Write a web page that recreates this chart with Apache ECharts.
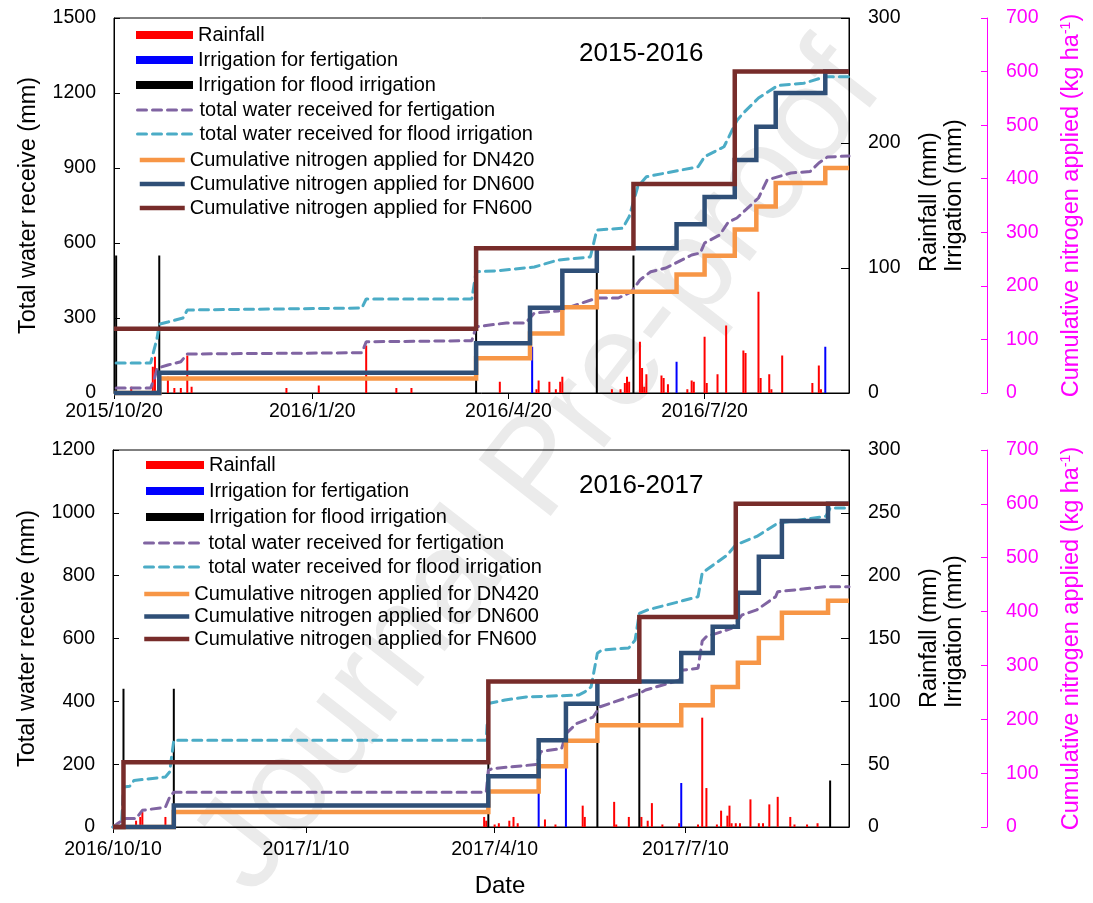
<!DOCTYPE html>
<html>
<head>
<meta charset="utf-8">
<script src="https://cdn.jsdelivr.net/npm/echarts@6/dist/echarts.min.js"></script>
<style>
html,body{margin:0;padding:0;background:#fff;}
#chart{width:1093px;height:903px;}
</style>
</head>
<body>
<div id="chart"></div>
<script>
// ---------------- DATA: 2015-2016 ----------------
const xTicks15 = ['2015-10-20', '2016-01-20', '2016-04-20', '2016-07-20'];
const xRange15 = ['2015-10-20', '2016-09-25'];

const rain15Dates = ['2015-10-28','2015-11-07','2015-11-08','2015-11-14','2015-11-17','2015-11-20','2015-11-23','2015-11-25',
  '2016-01-08','2016-01-23','2016-02-14','2016-02-28','2016-03-06','2016-04-16','2016-05-03','2016-05-04','2016-05-09',
  '2016-05-12','2016-05-14','2016-05-15','2016-06-07','2016-06-11','2016-06-13','2016-06-14','2016-06-15','2016-06-20',
  '2016-06-21','2016-06-22','2016-06-23','2016-06-30','2016-07-01','2016-07-03','2016-07-12','2016-07-14','2016-07-15',
  '2016-07-20','2016-07-21','2016-07-26','2016-07-30','2016-08-07','2016-08-08','2016-08-14','2016-08-15','2016-08-19',
  '2016-08-20','2016-08-25','2016-09-08','2016-09-11','2016-09-12'];
const rain15 = [5,21,29,13,4,4,30,5,
  4,6,38,4,4,9,3,10,9,
  3,9,13,3,3,8,13,9,41,
  20,5,15,14,12,7,3,10,9,
  45,8,15,54,34,32,81,12,15,
  3,30,8,22,3];

const fert15Dates = ['2016-05-01','2016-07-07','2016-09-14'];
const fert15 = [37,25,37];

const flood15Dates = ['2015-10-21','2015-11-10','2016-04-05','2016-05-31','2016-06-17'];
const flood15 = [110,110,110,110,110];

const totFert15Dates = ['2015-10-21','2015-11-06','2015-11-08','2015-11-09','2015-11-14','2015-11-20','2015-11-23','2016-02-12',
  '2016-02-14','2016-04-03','2016-04-05','2016-04-19','2016-04-28','2016-05-02','2016-05-13','2016-05-31','2016-06-10',
  '2016-06-16','2016-06-20','2016-06-25','2016-07-02','2016-07-14','2016-07-18','2016-07-20','2016-07-27','2016-07-31',
  '2016-08-04','2016-08-14','2016-08-18','2016-08-29','2016-09-07','2016-09-11','2016-09-15','2016-09-25'];
const totFert15 = [20,20,65,99,112,125,156,161,
  205,209,265,280,280,320,328,380,380,
  404,452,485,500,552,560,600,632,684,
  700,780,852,880,886,920,944,948];

const totFlood15Dates = ['2015-10-21','2015-11-06','2015-11-09','2015-11-10','2015-11-14','2015-11-21','2015-11-23','2016-02-12',
  '2016-02-14','2016-04-03','2016-04-05','2016-04-15','2016-05-02','2016-05-13','2016-05-28','2016-05-31','2016-06-12',
  '2016-06-15','2016-06-19','2016-06-23','2016-07-17','2016-07-20','2016-07-29','2016-08-04','2016-08-07','2016-08-14',
  '2016-08-23','2016-09-04','2016-09-14','2016-09-25'];
const totFlood15 = [120,120,220,275,284,300,332,340,
  376,376,485,489,504,532,544,652,659,
  705,825,865,905,945,985,1090,1120,1180,
  1230,1239,1265,1265];

const nDn15Dates = ['2015-10-20','2015-11-10','2016-04-05','2016-04-30','2016-05-15','2016-05-31','2016-07-07',
  '2016-07-20','2016-08-03','2016-08-13','2016-08-22','2016-09-14','2016-09-25'];
const dn420_15 = [0,27,65,111,160,189,221,256,305,348,392,420,420];
const dn600_15 = [0,38,93,159,228,270,315,366,435,497,560,600,600];
const nFn15Dates = ['2015-10-20','2016-04-05','2016-06-17','2016-08-03','2016-09-25'];
const fn600_15 = [120,270,390,600,600];

// ---------------- DATA: 2016-2017 ----------------
const xTicks16 = ['2016-10-10', '2017-01-10', '2017-04-10', '2017-07-10'];
const xRange16 = ['2016-10-10', '2017-09-26'];

const rain16Dates = ['2016-10-21','2016-10-23','2016-10-24','2016-11-04','2017-04-05','2017-04-06','2017-04-10','2017-04-12',
  '2017-04-17','2017-04-19','2017-04-21','2017-05-04','2017-05-09','2017-05-22','2017-05-23','2017-06-06','2017-06-07',
  '2017-06-13','2017-06-19','2017-06-22','2017-06-24','2017-06-29','2017-07-07','2017-07-16','2017-07-18','2017-07-20',
  '2017-07-25','2017-07-27','2017-07-30','2017-07-31','2017-08-01','2017-08-03','2017-08-05','2017-08-10','2017-08-14',
  '2017-08-16','2017-08-19','2017-08-23','2017-08-29','2017-08-31','2017-09-06','2017-09-11'];
const rain16 = [5,8,12,8,8,5,2,3,
  5,8,3,6,2,17,8,20,2,
  8,8,5,19,2,3,2,87,31,
  2,13,9,17,3,3,3,22,3,
  3,18,24,8,2,2,3];

const fert16Dates = ['2017-05-01','2017-05-14','2017-07-08'];
const fert16 = [27,48,35];

const flood16Dates = ['2016-10-15','2016-11-08','2017-04-07','2017-05-29','2017-06-18','2017-09-17'];
const flood16 = [110,110,110,110,110,37];

const totFert16Dates = ['2016-10-10','2016-10-12','2016-10-16','2016-10-21','2016-10-24','2016-11-04','2016-11-06','2016-11-08',
  '2017-04-06','2017-04-07','2017-04-09','2017-04-30','2017-05-02','2017-05-12','2017-05-14','2017-05-19','2017-05-27',
  '2017-05-30','2017-06-18','2017-06-21','2017-07-07','2017-07-08','2017-07-16','2017-07-18','2017-07-20','2017-08-01',
  '2017-08-06','2017-08-13','2017-08-22','2017-08-23','2017-09-15','2017-09-26'];
const totFert16 = [0,10,27,27,53,63,95,111,
  111,180,186,199,240,250,297,329,350,
  382,425,436,467,499,505,592,606,632,
  675,691,733,749,765,765];

const totFlood16Dates = ['2016-10-10','2016-10-14','2016-10-15','2016-10-18','2016-10-20','2016-11-04','2016-11-06','2016-11-08',
  '2017-04-06','2017-04-07','2017-04-15','2017-04-25','2017-05-20','2017-05-23','2017-05-26','2017-05-29','2017-05-31',
  '2017-06-13','2017-06-16','2017-06-18','2017-06-22','2017-07-16','2017-07-18','2017-07-30','2017-08-03','2017-08-13',
  '2017-08-23','2017-09-15','2017-09-17','2017-09-26'];
const totFlood16 = [0,3,127,130,148,159,175,276,
  276,393,404,414,420,430,446,553,563,
  570,595,680,691,733,809,866,898,925,
  967,989,1015,1015];

const nDn16Dates = ['2016-10-10','2016-11-08','2017-04-07','2017-05-01','2017-05-14','2017-05-29','2017-07-08',
  '2017-07-23','2017-08-04','2017-08-14','2017-08-25','2017-09-16','2017-09-26'];
const dn420_16 = [0,28,66,113,160,189,226,260,305,351,398,420,420];
const dn600_16 = [0,40,94,161,229,270,323,372,435,502,568,600,600];
const nFn16Dates = ['2016-10-10','2016-10-15','2017-04-07','2017-06-18','2017-08-03','2017-09-26'];
const fn600_16 = [0,120,270,390,600,600];

const seasonTitles = ['2015-2016', '2016-2017'];

// ---------------- HELPERS ----------------
const FONT = '"Liberation Sans", Arial, Helvetica, sans-serif';
function ts(s) { const p = s.split('-').map(Number); return new Date(p[0], p[1] - 1, p[2]).getTime(); }
function pairs(dates, vals) { return dates.map((d, i) => [ts(d), vals[i]]); }
function fmtDate(v) { const d = new Date(v); return d.getFullYear() + '/' + (d.getMonth() + 1) + '/' + d.getDate(); }
function fmtNum(v) { return String(v); }

const C = {
  rain: '#FF0000', fert: '#0000FF', flood: '#000000',
  totFert: '#8064A2', totFlood: '#4BACC6',
  dn420: '#F79646', dn600: '#2F4F77', fn600: '#772C2A', pink: '#FF00FF'
};
const N = {
  rain: 'Rainfall', fert: 'Irrigation for fertigation', flood: 'Irrigation for flood irrigation',
  totFert: 'total water received for fertigation', totFlood: 'total water received for flood irrigation',
  dn420: 'Cumulative nitrogen applied for DN420', dn600: 'Cumulative nitrogen applied for DN600', fn600: 'Cumulative nitrogen applied for FN600'
};

const grids = [
  { left: 114, top: 18, width: 737, height: 375 },
  { left: 113, top: 450, width: 737, height: 377 }
];

function xAx(g, range, ticks, margin, withName) {
  const o = {
    type: 'value', gridIndex: g, min: ts(range[0]), max: ts(range[1]), scale: true,
    axisLine: { show: true, onZero: false, lineStyle: { color: '#000', width: 1 } },
    axisTick: { show: true, inside: false, length: 6, lineStyle: { color: '#000' }, customValues: ticks.map(ts) },
    axisLabel: { show: true, customValues: ticks.map(ts), formatter: fmtDate, fontSize: 19.5, color: '#000', margin: margin, hideOverlap: false, showMinLabel: true, showMaxLabel: true, fontFamily: FONT },
    splitLine: { show: false }, minorTick: { show: false }
  };
  if (withName) {
    o.name = 'Date'; o.nameLocation = 'middle'; o.nameGap = 46;
    o.nameTextStyle = { fontSize: 24, color: '#000', lineHeight: 26, padding: [0, 0, 0, 38], fontFamily: FONT };
  }
  return o;
}

function yLeft(g, max, interval) {
  return {
    type: 'value', gridIndex: g, position: 'left', min: 0, max: max, interval: interval,
    axisLine: { show: true, onZero: false, lineStyle: { color: '#000', width: 1 } },
    axisTick: { show: true, inside: true, length: 6, lineStyle: { color: '#000' } },
    axisLabel: { margin: 18, fontSize: 19.5, color: '#000', fontFamily: FONT, formatter: fmtNum },
    splitLine: { show: false },
    name: 'Total water receive (mm)', nameLocation: 'middle', nameGap: 60,
    nameTextStyle: { fontSize: 23.5, color: '#000', lineHeight: 26, fontFamily: FONT }
  };
}
function yRain(g, interval) {
  return {
    type: 'value', gridIndex: g, position: 'right', min: 0, max: 300, interval: interval,
    axisLine: { show: true, onZero: false, lineStyle: { color: '#000', width: 1 } },
    axisTick: { show: true, inside: true, length: 8, lineStyle: { color: '#000' } },
    axisLabel: { margin: 19, fontSize: 19.5, color: '#000', fontFamily: FONT, formatter: fmtNum },
    splitLine: { show: false }
  };
}
function yN(g) {
  return {
    type: 'value', gridIndex: g, position: 'right', offset: 138, min: 0, max: 700, interval: 100,
    axisLine: { show: true, onZero: false, lineStyle: { color: C.pink, width: 1 } },
    axisTick: { show: true, inside: true, length: 6, lineStyle: { color: C.pink } },
    axisLabel: { margin: 19, fontSize: 19.5, color: C.pink, fontFamily: FONT, formatter: fmtNum },
    splitLine: { show: false },
    name: '{a|Cumulative nitrogen applied (kg ha}{s|-1}{a|)}', nameLocation: 'middle', nameGap: 72,
    nameTextStyle: {
      color: C.pink, fontSize: 23.5, lineHeight: 26, fontFamily: FONT,
      rich: {
        a: { color: C.pink, fontSize: 23.5, lineHeight: 26, fontFamily: FONT },
        s: { color: C.pink, fontSize: 14, verticalAlign: 'top', fontFamily: FONT }
      }
    }
  };
}

function barS(name, color, g, dates, vals) {
  return { type: 'bar', name: name, color: color, xAxisIndex: g, yAxisIndex: 3 * g + 1,
    data: pairs(dates, vals), barWidth: 2, barGap: '-100%', silent: true, itemStyle: { color: color } };
}
function dashS(name, color, g, dates, vals) {
  return { type: 'line', name: name, color: color, xAxisIndex: g, yAxisIndex: 3 * g,
    data: pairs(dates, vals), symbol: 'none', showSymbol: false, clip: false, silent: true,
    lineStyle: { color: color, width: 3, type: [9, 6], cap: 'round' } };
}
function stepS(name, color, g, dates, vals) {
  return { type: 'line', name: name, color: color, xAxisIndex: g, yAxisIndex: 3 * g + 2, step: 'end',
    data: pairs(dates, vals), symbol: 'none', showSymbol: false, clip: false, silent: true,
    lineStyle: { color: color, width: 4.5, cap: 'butt', join: 'miter' } };
}

function legendBlock(names, left, top, w, lh, icon, lw) {
  const o = { orient: 'vertical', left: left, top: top, padding: 0, itemGap: 0, itemWidth: w, itemHeight: 8,
    data: names, selectedMode: false,
    textStyle: { fontSize: 20, color: '#000', lineHeight: lh, fontFamily: FONT } };
  if (icon) o.icon = icon;
  if (lw) { o.lineStyle = { width: lw }; o.itemStyle = { opacity: 0 }; }
  return o;
}

const series = [];
[
  [0, rain15Dates, rain15, fert15Dates, fert15, flood15Dates, flood15, totFert15Dates, totFert15, totFlood15Dates, totFlood15, nDn15Dates, dn420_15, dn600_15, nFn15Dates, fn600_15],
  [1, rain16Dates, rain16, fert16Dates, fert16, flood16Dates, flood16, totFert16Dates, totFert16, totFlood16Dates, totFlood16, nDn16Dates, dn420_16, dn600_16, nFn16Dates, fn600_16]
].forEach(function (p) {
  const g = p[0];
  series.push(barS(N.rain, C.rain, g, p[1], p[2]));
  series.push(barS(N.fert, C.fert, g, p[3], p[4]));
  series.push(barS(N.flood, C.flood, g, p[5], p[6]));
  series.push(dashS(N.totFert, C.totFert, g, p[7], p[8]));
  series.push(dashS(N.totFlood, C.totFlood, g, p[9], p[10]));
  series.push(stepS(N.dn420, C.dn420, g, p[11], p[12]));
  series.push(stepS(N.dn600, C.dn600, g, p[11], p[13]));
  series.push(stepS(N.fn600, C.fn600, g, p[14], p[15]));
});

const option = {
  animation: false,
  backgroundColor: '#ffffff',
  textStyle: { fontFamily: FONT },
  grid: grids.map(function (gr) { return Object.assign({ show: true, borderColor: '#000', borderWidth: 1, backgroundColor: 'transparent', containLabel: false }, gr); }),
  xAxis: [xAx(0, xRange15, xTicks15, 9, false), xAx(1, xRange16, xTicks16, 13, true)],
  yAxis: [yLeft(0, 1500, 300), yRain(0, 100), yN(0), yLeft(1, 1200, 200), yRain(1, 50), yN(1)],
  legend: [
    legendBlock([N.rain, N.fert, N.flood], 136, 22.5, 57, 25, 'rect'),
    legendBlock([N.totFert, N.totFlood], 136, 98, 57, 24, null, 3),
    legendBlock([N.dn420, N.dn600, N.fn600], 137.5, 148, 45, 24, null, 4.5),
    legendBlock([N.rain, N.fert, N.flood], 146, 452, 58, 26, 'rect'),
    legendBlock([N.totFert, N.totFlood], 143, 531, 59, 24, null, 3),
    legendBlock([N.dn420, N.dn600, N.fn600], 142, 582.75, 45, 22.5, null, 4.5)
  ],
  graphic: [
    { type: 'text', x: 540, y: 470, rotation: 52 * Math.PI / 180, z: -10, silent: true,
      style: { text: 'Journal Pre-proof', font: '133px "Liberation Sans", Arial, sans-serif', fill: '#ebebeb', align: 'center', verticalAlign: 'middle' } },
    { type: 'text', x: 579, y: 54, z: 10, silent: true,
      style: { text: seasonTitles[0], font: '26px "Liberation Sans", Arial, sans-serif', fill: '#000', align: 'left', verticalAlign: 'middle' } },
    { type: 'text', x: 579, y: 486, z: 10, silent: true,
      style: { text: seasonTitles[1], font: '26px "Liberation Sans", Arial, sans-serif', fill: '#000', align: 'left', verticalAlign: 'middle' } },
    { type: 'text', x: 942, y: 272, rotation: Math.PI / 2, z: 10, silent: true,
      style: { text: 'Rainfall (mm)\nIrrigation (mm)', font: '23.5px "Liberation Sans", Arial, sans-serif', lineHeight: 25, fill: '#000', align: 'left', verticalAlign: 'middle' } },
    { type: 'text', x: 942, y: 708, rotation: Math.PI / 2, z: 10, silent: true,
      style: { text: 'Rainfall (mm)\nIrrigation (mm)', font: '23.5px "Liberation Sans", Arial, sans-serif', lineHeight: 25, fill: '#000', align: 'left', verticalAlign: 'middle' } }
  ],
  series: series
};

const chart = echarts.init(document.getElementById('chart'), null, { renderer: 'canvas' });
chart.setOption(option);
</script>
</body>
</html>
